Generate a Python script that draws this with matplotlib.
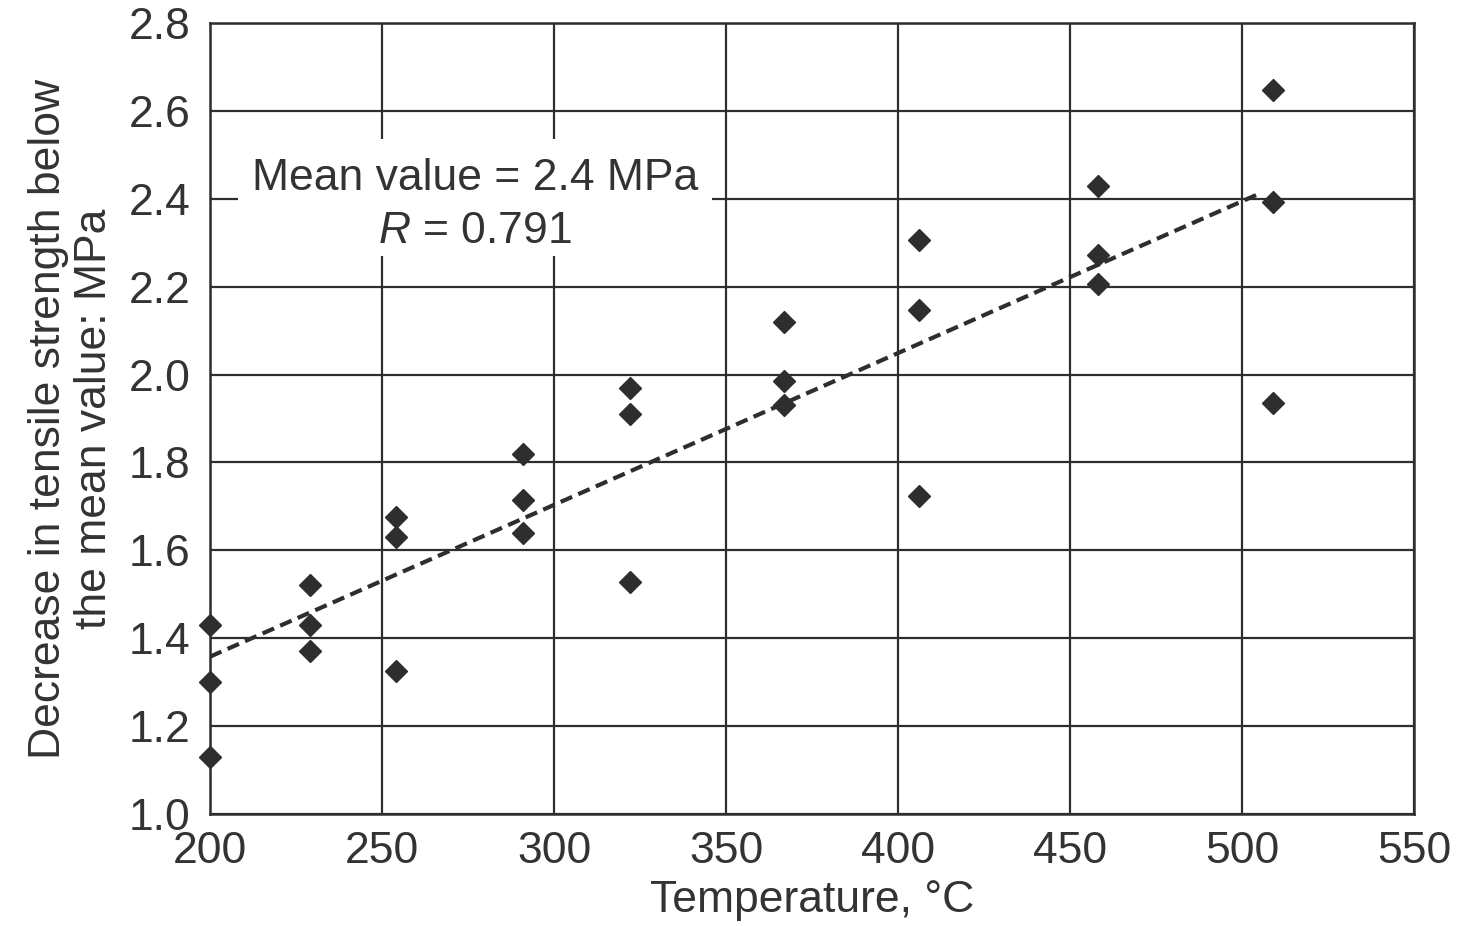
import matplotlib.pyplot as plt
from matplotlib.patches import Rectangle

plt.rcParams['font.family'] = ['Liberation Sans', 'DejaVu Sans']
plt.rcParams['mathtext.fontset'] = 'custom'
plt.rcParams['mathtext.it'] = 'Liberation Sans:italic'
plt.rcParams['mathtext.rm'] = 'Liberation Sans'

# measured points (temperature, decrease in strength)
temp = [200, 200, 200,
        229, 229, 229,
        254, 254, 254,
        291, 291, 291,
        322, 322, 322,
        367, 367, 367,
        406, 406, 406,
        458, 458, 458,
        509, 509, 509]
decrease = [1.43, 1.30, 1.13,
            1.52, 1.43, 1.37,
            1.675, 1.63, 1.325,
            1.82, 1.715, 1.64,
            1.97, 1.91, 1.527,
            2.12, 1.986, 1.93,
            2.307, 2.148, 1.723,
            2.43, 2.273, 2.207,
            2.647, 2.393, 1.936]

# regression line end points
fit_x = [200, 505.7]
fit_y = [1.358, 2.414]

xticks = [200, 250, 300, 350, 400, 450, 500, 550]
yticks = [1.0, 1.2, 1.4, 1.6, 1.8, 2.0, 2.2, 2.4, 2.6, 2.8]

dark = '#2e2e2e'
fs = 32

fig = plt.figure(figsize=(14.6, 9.26), dpi=100)
ax = fig.add_axes([210 / 1460, 1 - 814 / 926, 1204 / 1460, 791 / 926])

ax.set_xlim(200, 550)
ax.set_ylim(1.0, 2.8)
ax.set_xticks(xticks)
ax.set_yticks(yticks)
ax.set_yticklabels(['%.1f' % v for v in yticks])
ax.tick_params(length=0, labelsize=fs, labelcolor='#333333')
ax.tick_params(axis='x', pad=12)
ax.tick_params(axis='y', pad=14)
ax.grid(True, color=dark, linewidth=1.6, zorder=1)
ax.set_axisbelow(True)
for sp in ax.spines.values():
    sp.set_color(dark)
    sp.set_linewidth(1.8)

ax.plot(fit_x, fit_y, linestyle=(0, (3, 1.6)), color=dark, linewidth=3, zorder=3)
ax.plot(temp, decrease, 'D', color=dark, markersize=11, zorder=4, clip_on=False)

# annotation with white background hiding the grid
ax.add_patch(Rectangle((208.1, 2.269), 137.8, 0.266, facecolor='white',
                       edgecolor='none', zorder=2))
ax.text(277, 2.446, 'Mean value = 2.4 MPa', ha='center', va='center',
        fontsize=fs, color='#333333', zorder=5)
ax.text(277, 2.326, '$R$ = 0.791', ha='center', va='center',
        fontsize=fs, color='#333333', zorder=5)

ax.set_xlabel('Temperature, °C', fontsize=fs, color='#333333', labelpad=6)
ax.set_ylabel('Decrease in tensile strength below\nthe mean value: MPa',
              fontsize=fs, color='#333333', labelpad=10, linespacing=1.15)

fig.savefig('out.png', dpi=100)
